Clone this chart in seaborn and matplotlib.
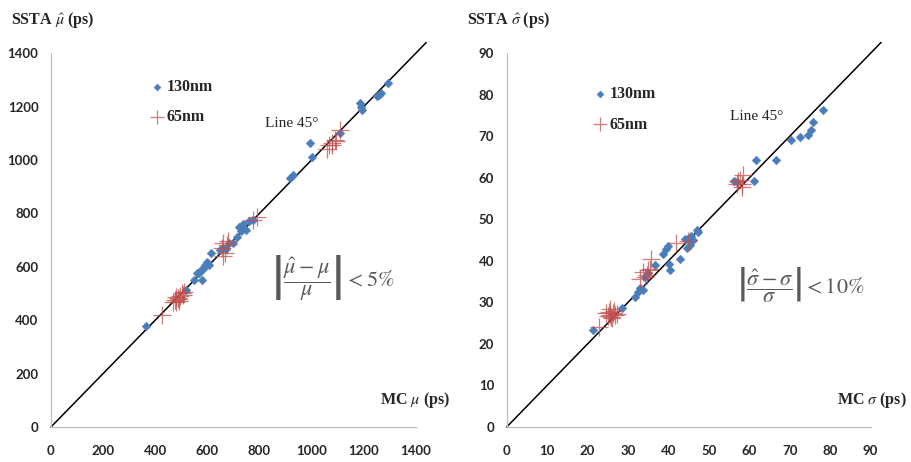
import pandas as pd
import matplotlib
matplotlib.use("Agg")
import matplotlib.pyplot as plt
import seaborn as sns

# values
mu130_mc = [365, 520, 548, 559, 568, 575, 582, 590, 597, 600, 605, 616, 578, 650, 662, 672, 685, 699, 715, 722, 731, 738, 750, 735, 760, 775, 917, 927, 993, 1000, 1108, 1185, 1192, 1188, 1250, 1258, 1266, 1294]
mu130_ss = [378, 513, 552, 575, 575, 588, 592, 606, 619, 612, 608, 650, 550, 662, 672, 668, 690, 688, 712, 750, 735, 745, 737, 762, 770, 775, 931, 943, 1064, 1010, 1100, 1213, 1187, 1200, 1238, 1245, 1252, 1289]
mu65_mc = [425, 469, 476, 480, 488, 490, 495, 501, 508, 510, 478, 492, 655, 662, 667, 674, 678, 660, 776, 789, 1058, 1068, 1077, 1080, 1090, 1095, 1108]
mu65_ss = [419, 469, 475, 470, 482, 480, 492, 500, 494, 505, 488, 472, 669, 640, 650, 681, 695, 690, 775, 787, 1043, 1055, 1056, 1065, 1075, 1070, 1112]

sig130_mc = [21.4, 28.4, 31.7, 32.4, 33.0, 33.8, 34.2, 35.0, 36.7, 38.7, 39.3, 40.0, 40.2, 40.4, 42.9, 44.1, 44.5, 45.3, 45.7, 46.0, 47.3, 44.9, 47.0, 56.3, 57.0, 61.2, 61.6, 66.5, 70.3, 72.5, 74.6, 75.2, 75.8, 78.3]
sig130_ss = [23.3, 28.7, 31.4, 32.5, 33.4, 33.0, 36.1, 37.0, 38.9, 41.7, 42.9, 43.5, 39.3, 37.8, 40.5, 45.3, 43.0, 43.8, 46.0, 45.0, 47.0, 45.3, 47.5, 59.2, 59.0, 59.3, 64.3, 64.2, 69.2, 69.8, 70.4, 71.6, 73.4, 76.4]
sig65_mc = [22.8, 24.5, 25.0, 25.3, 25.6, 25.9, 26.2, 26.5, 26.8, 27.2, 25.5, 26.0, 33.0, 33.8, 34.2, 34.6, 35.0, 35.4, 35.7, 41.8, 44.8, 56.9, 57.3, 57.7, 58.1, 58.5, 58.2]
sig65_ss = [24.0, 27.5, 26.8, 27.8, 27.0, 26.5, 27.4, 27.9, 26.9, 27.2, 28.4, 26.2, 35.7, 37.3, 36.0, 36.5, 37.8, 38.1, 40.5, 44.3, 44.8, 58.6, 59.2, 59.4, 57.7, 60.6, 58.4]

mu_ticks = [0, 200, 400, 600, 800, 1000, 1200, 1400]
sig_ticks = [0, 10, 20, 30, 40, 50, 60, 70, 80, 90]

blue = '#4a7ebb'
red = '#c0504d'

sns.set_style("white")
plt.rcParams['font.family'] = ['Liberation Serif', 'DejaVu Serif']
plt.rcParams['mathtext.fontset'] = 'stix'

fig = plt.figure(figsize=(9.12, 4.62), dpi=100)
ax1 = fig.add_axes([0.0559, 0.0758, 0.400, 0.809])
ax2 = fig.add_axes([0.5556, 0.0758, 0.399, 0.809])

panels = [
    (ax1, mu130_mc, mu130_ss, mu65_mc, mu65_ss, mu_ticks, 1400, 1440,
     r'SSTA $\hat{\mu}$ (ps)', r'MC $\mu$ (ps)',
     r'$\left|\dfrac{\hat{\mu}-\mu}{\mu}\right| < \mathrm{5\%}$', (0.603, 0.40), (0.586, 0.812),
     (0.23, 0.97), 1.093),
    (ax2, sig130_mc, sig130_ss, sig65_mc, sig65_ss, sig_ticks, 90, 92.6,
     r'SSTA $\hat{\sigma}$ (ps)', r'MC $\sigma$ (ps)',
     r'$\left|\dfrac{\hat{\sigma}-\sigma}{\sigma}\right| < \mathrm{10\%}$', (0.633, 0.38), (0.615, 0.83),
     (0.195, 0.95), 1.10),
]

for ax, x130, y130, x65, y65, ticks, top, line_end, ylab, xlab, formula, fpos, lpos, legpos, xlab_x in panels:
    d130 = pd.DataFrame({'mc': x130, 'ssta': y130})
    d65 = pd.DataFrame({'mc': x65, 'ssta': y65})

    # 45 degree line
    ax.plot([0, line_end], [0, line_end], color='black', lw=1.1, clip_on=False, zorder=1)

    sns.scatterplot(data=d130, x='mc', y='ssta', ax=ax, marker='D', s=20,
                    color=blue, edgecolor=blue, linewidth=0.3, label='130nm', zorder=3)
    sns.scatterplot(data=d65, x='mc', y='ssta', ax=ax, marker='+', s=150,
                    color=red, linewidth=0.9, alpha=0.75, label='65nm', zorder=4)

    ax.set_xlim(0, top)
    ax.set_ylim(0, top)
    ax.set_xticks(ticks)
    ax.set_yticks(ticks)
    ax.set_xlabel('')
    ax.set_ylabel('')
    for lab in ax.get_xticklabels() + ax.get_yticklabels():
        lab.set_fontfamily('Lato')
        lab.set_fontweight('bold')
        lab.set_fontsize(9.5)
    ax.tick_params(axis='x', direction='out', length=4, width=0.8, color='#bfbfbf', pad=9)
    ax.tick_params(axis='y', direction='out', length=4, width=0.8, color='#bfbfbf', pad=5)
    sns.despine(ax=ax)
    for side in ['left', 'bottom']:
        ax.spines[side].set_color('#bfbfbf')
        ax.spines[side].set_linewidth(0.9)

    ax.text(-0.11, 1.09, ylab, transform=ax.transAxes, fontsize=11.5,
            fontweight='bold', ha='left', va='center')
    ax.text(xlab_x, 0.072, xlab, transform=ax.transAxes, fontsize=11.5,
            fontweight='bold', ha='right', va='center')
    ax.text(lpos[0], lpos[1], 'Line 45°', transform=ax.transAxes, fontsize=11,
            ha='left', va='center')
    ax.text(fpos[0], fpos[1], formula, transform=ax.transAxes, fontsize=16,
            color='#595959', ha='left', va='center')

    leg = ax.legend(loc='upper left', bbox_to_anchor=legpos, frameon=False,
                    fontsize=11.5, handletextpad=0.1, handlelength=1.0,
                    labelspacing=0.9, markerscale=0.8)
    for t in leg.get_texts():
        t.set_fontweight('bold')

fig.savefig('out.png', dpi=100)
